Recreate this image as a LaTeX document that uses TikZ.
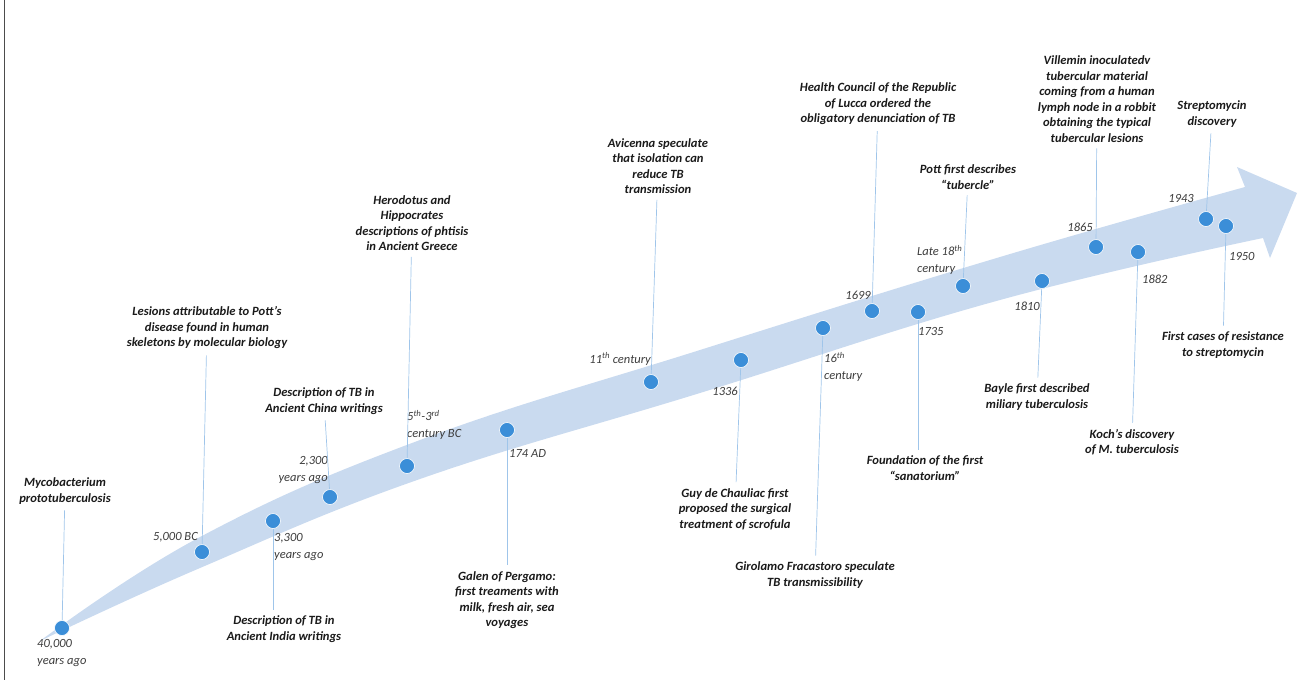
\documentclass[tikz,border=0pt]{standalone}
\usepackage{fontspec}
\setmainfont{Carlito}
\usepackage{tikz}
\usetikzlibrary{positioning}

\definecolor{bandblue}{HTML}{C9DAEF}
\definecolor{dotblue}{HTML}{3B8ED8}
\definecolor{leadblue}{HTML}{9FC5EA}
\definecolor{textdark}{HTML}{1A1A1A}
\definecolor{dategray}{HTML}{3C3C3C}

\begin{document}
\begin{tikzpicture}[x=1pt, y=-1pt,
    tbdot/.style={circle, fill=dotblue, draw=white, line width=0.6pt, minimum size=15pt, inner sep=0pt},
    tbtext/.style={align=center, text=textdark, font=\fontsize{12.6}{15.5}\selectfont\bfseries\itshape, inner sep=1pt},
    tbdate/.style={text=dategray, font=\fontsize{12.5}{16.5}\selectfont\itshape, inner sep=1pt},
    tblead/.style={leadblue, line width=0.7pt, shorten >=5pt}]

        \useasboundingbox (0,0) rectangle (1298,680);

        \draw[black!70, line width=0.8pt] (4,0) -- (4,680);

        % the curved band with its arrow head
        \fill[bandblue] plot[smooth, tension=0.7] coordinates {(40,641) (200,537) (420,440) (700,350) (1000,257) (1245,187)}
            -- (1237,167) -- (1297,193) -- (1270,258) -- (1263,238)
            -- plot[smooth, tension=0.7] coordinates {(1263,238) (1000,300) (700,393) (420,479) (200,568) (40,641)} -- cycle;

        % dots on the band
        \node[tbdot] (p1) at (62,628) {};
        \node[tbdot] (p2) at (202,552) {};
        \node[tbdot] (p3) at (273,521) {};
        \node[tbdot] (p4) at (330,497) {};
        \node[tbdot] (p5) at (407,466) {};
        \node[tbdot] (p6) at (507,430) {};
        \node[tbdot] (p7) at (651,382) {};
        \node[tbdot] (p8) at (741,360) {};
        \node[tbdot] (p9) at (823,328) {};
        \node[tbdot] (p10) at (872,311) {};
        \node[tbdot] (p11) at (918,312) {};
        \node[tbdot] (p12) at (963,286) {};
        \node[tbdot] (p13) at (1042,281) {};
        \node[tbdot] (p14) at (1096,247) {};
        \node[tbdot] (p15) at (1138,252) {};
        \node[tbdot] (p16) at (1206,219) {};
        \node[tbdot] (p17) at (1226,226) {};

        % events
        \node[tbtext] (t1) at (65,491) {Mycobacterium\\prototuberculosis};
        \node[tbtext] (t2) at (207,328) {Lesions attributable to Pott's\\disease found in human\\skeletons by molecular biology};
        \node[tbtext] (t3) at (284,629) {Description of TB in\\Ancient India writings};
        \node[tbtext] (t4) at (324,401) {Description of TB in\\Ancient China writings};
        \node[tbtext] (t5) at (412,223) {Herodotus and\\Hippocrates\\descriptions of phtisis\\in Ancient Greece};
        \node[tbtext] (t6) at (507,600) {Galen of Pergamo:\\first treaments with\\milk, fresh air, sea\\voyages};
        \node[tbtext] (t7) at (658,166) {Avicenna speculate\\that isolation can\\reduce TB\\transmission};
        \node[tbtext] (t8) at (735,509) {Guy de Chauliac first\\proposed the surgical\\treatment of scrofula};
        \node[tbtext] (t9) at (815,575) {Girolamo Fracastoro speculate\\TB transmissibility};
        \node[tbtext] (t10) at (878,104) {Health Council of the Republic\\of Lucca ordered the\\obligatory denunciation of TB};
        \node[tbtext] (t11) at (925,468) {Foundation of the first\\``sanatorium''};
        \node[tbtext] (t12) at (968,177) {Pott first describes\\``tubercle''};
        \node[tbtext] (t13) at (1037,397) {Bayle first described\\miliary tuberculosis};
        \node[tbtext] (t14) at (1097,99) {Villemin inoculatedv\\tubercular material\\coming from a human\\lymph node in a robbit\\obtaining the typical\\tubercular lesions};
        \node[tbtext] (t15) at (1132,442) {Koch's discovery\\of M. tuberculosis};
        \node[tbtext] (t16) at (1212,114) {Streptomycin\\discovery};
        \node[tbtext] (t17) at (1223,345) {First cases of resistance\\to streptomycin};

        % dates
        \node[tbdate, anchor=west, align=left] (w1) at (36,653) {40,000\\years ago};
        \node[tbdate, anchor=east] (w2) at (199,537) {5,000 BC};
        \node[tbdate, anchor=west, align=left] (w3) at (273,547) {3,300\\years ago};
        \node[tbdate, anchor=east, align=right] (w4) at (329,470) {2,300\\years ago};
        \node[tbdate, anchor=west, align=left] (w5) at (406,425) {5\textsuperscript{th}-3\textsuperscript{rd}\\century BC};
        \node[tbdate, anchor=west] (w6) at (508,453) {174 AD};
        \node[tbdate, anchor=east] (w7) at (652,359) {11\textsuperscript{th} century};
        \node[tbdate, anchor=east] (w8) at (739,391) {1336};
        \node[tbdate, anchor=west, align=left] (w9) at (823,367) {16\textsuperscript{th}\\century};
        \node[tbdate, anchor=east] (w10) at (872,295) {1699};
        \node[tbdate, anchor=west] (w11) at (917,331) {1735};
        \node[tbdate, anchor=west, align=left] (w12) at (916,260) {Late 18\textsuperscript{th}\\century};
        \node[tbdate, anchor=east] (w13) at (1041,306) {1810};
        \node[tbdate, anchor=east] (w14) at (1094,227) {1865};
        \node[tbdate, anchor=west] (w15) at (1141,279) {1882};
        \node[tbdate, anchor=east] (w16) at (1195,198) {1943};
        \node[tbdate, anchor=west] (w17) at (1228,256) {1950};

        % leader lines
        \draw[tblead] (p1) -- (t1);
        \draw[tblead] (p2) -- (t2);
        \draw[tblead] (p3) -- (p3 |- t3.north);
        \draw[tblead] (p4) -- (t4);
        \draw[tblead] (p5) -- (t5);
        \draw[tblead] (p6) -- (t6);
        \draw[tblead] (p7) -- (t7);
        \draw[tblead] (p8) -- (t8);
        \draw[tblead] (p9) -- (t9);
        \draw[tblead] (p10) -- (t10);
        \draw[tblead] (p11) -- (p11 |- t11.north);
        \draw[tblead] (p12) -- (t12);
        \draw[tblead] (p13) -- (t13);
        \draw[tblead] (p14) -- (t14);
        \draw[tblead] (p15) -- (t15);
        \draw[tblead] (p16) -- (t16);
        \draw[tblead] (p17) -- (t17);
      \end{tikzpicture}
\end{document}
